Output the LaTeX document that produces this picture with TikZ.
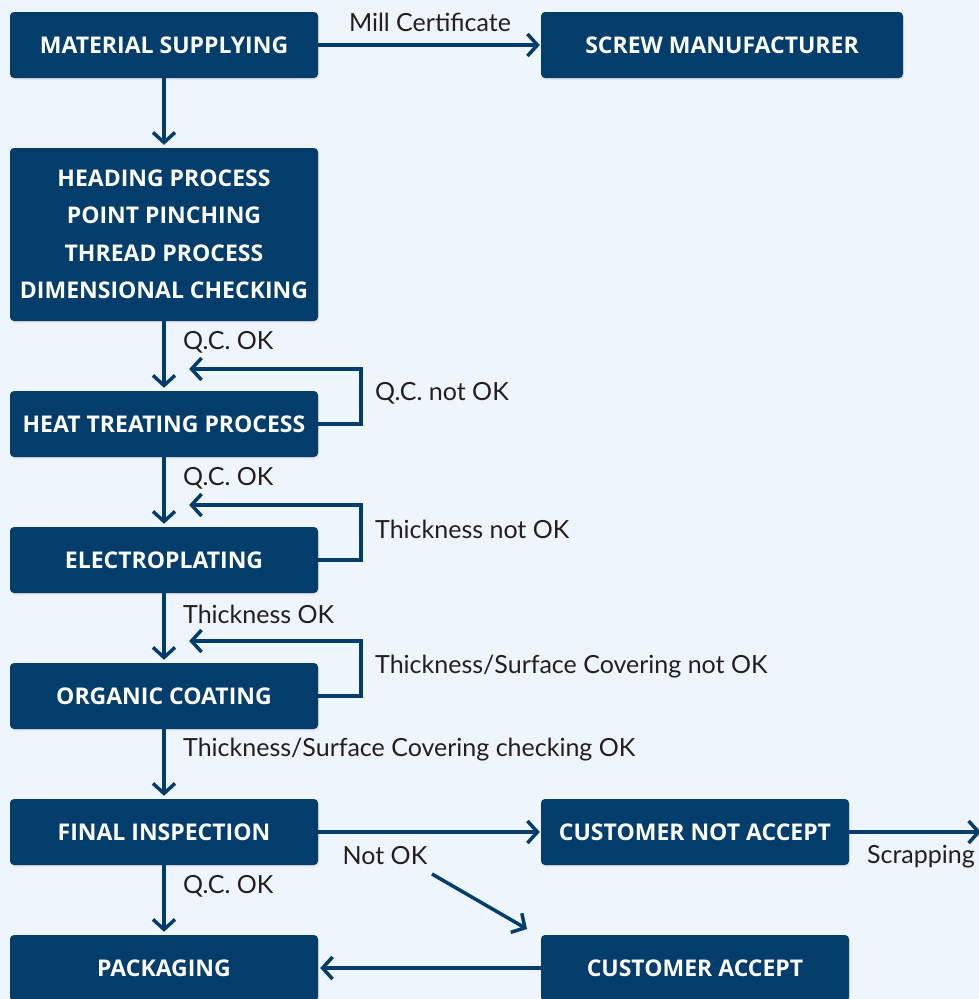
\documentclass[tikz,border=0pt]{standalone}
\usepackage{fontspec}
\setmainfont{Lato}
\newfontfamily\boxfont{Open Sans}
\usepackage{tikz}
\usetikzlibrary{arrows.meta, shadows}

\definecolor{boxblue}{HTML}{023D6B}
\definecolor{pagebg}{HTML}{EEF5FC}
\definecolor{labelgray}{HTML}{231F20}

\tikzset{
  stage/.style={fill=boxblue, text=white, rounded corners=4pt, inner sep=0pt,
    minimum width=308pt, minimum height=66pt, align=center,
    font=\boxfont\fontsize{23}{37.5}\selectfont\bfseries,
    drop shadow={opacity=0.15, shadow xshift=1pt, shadow yshift=-1.5pt}},
  flow/.style={draw=boxblue, line width=3.5pt,
    -{Straight Barb[length=10pt, width=22pt, line width=3.5pt]}},
  note/.style={text=labelgray, inner sep=0pt, font=\fontsize{25}{28}\selectfont},
}

\begin{document}
\begin{tikzpicture}[x=1pt, y=-1pt]
  \fill[pagebg] (0,0) rectangle (979,999);
  \useasboundingbox (0,0) rectangle (979,999);

  \node[stage] (supply) at (164,45) {MATERIAL SUPPLYING};
  \node[stage, minimum width=362pt] (maker) at (722,45) {SCREW MANUFACTURER};
  \node[stage, minimum height=173pt] (heading) at (164,234.5)
    {HEADING PROCESS\\POINT PINCHING\\THREAD PROCESS\\DIMENSIONAL CHECKING};
  \node[stage] (heat) at (164,424) {HEAT TREATING PROCESS};
  \node[stage] (plating) at (164,560) {ELECTROPLATING};
  \node[stage] (coating) at (164,696) {ORGANIC COATING};
  \node[stage] (final) at (164,832) {FINAL INSPECTION};
  \node[stage] (notaccept) at (695,832) {CUSTOMER NOT ACCEPT};
  \node[stage] (packing) at (164,968) {PACKAGING};
  \node[stage] (accept) at (695,968) {CUSTOMER ACCEPT};

  \coordinate (scrap) at (981,832);
  \coordinate (nokfrom) at (432,874);
  \coordinate (nokto) at (527,929);

  \draw[flow, shorten >=1pt] (supply) -- (maker);
  \draw[flow, shorten >=3pt] (supply) -- (heading);
  \draw[flow, shorten >=3pt] (heading) -- (heat);
  \draw[flow, shorten >=3pt] (heat) -- (plating);
  \draw[flow, shorten >=3pt] (plating) -- (coating);
  \draw[flow, shorten >=3pt] (coating) -- (final);
  \draw[flow, shorten >=3pt] (final) -- (packing);
  \draw[flow, shorten >=1pt] (final) -- (notaccept);
  \draw[flow] (notaccept) -- (scrap);
  \draw[flow] (nokfrom) -- (nokto);
  \draw[flow, shorten >=2pt] (accept) -- (packing);

  \foreach \b in {heat, plating, coating}
    \draw[flow] (\b.east) -- ++(43,0) -- ++(0,-55) -- ++(-172,0);

  \node[note] (mill) at (430,22) {Mill Certificate};
  \node[note, anchor=west] (qc1) at (183,342) {Q.C. OK};
  \node[note, anchor=west] (qcno) at (375,393) {Q.C. not OK};
  \node[note, anchor=west] (qc2) at (183,478) {Q.C. OK};
  \node[note, anchor=west] (thno) at (375,529) {Thickness not OK};
  \node[note, anchor=west] (thok) at (183,614) {Thickness OK};
  \node[note, anchor=west] (surfno) at (375,667) {Thickness/Surface Covering not OK};
  \node[note, anchor=west] (surfok) at (183,750) {Thickness/Surface Covering checking OK};
  \node[note] (notok) at (385,856) {Not OK};
  \node[note, anchor=west] (qc3) at (183,886) {Q.C. OK};
  \node[note, anchor=east] (scrapping) at (975,857) {Scrapping};
\end{tikzpicture}
\end{document}
